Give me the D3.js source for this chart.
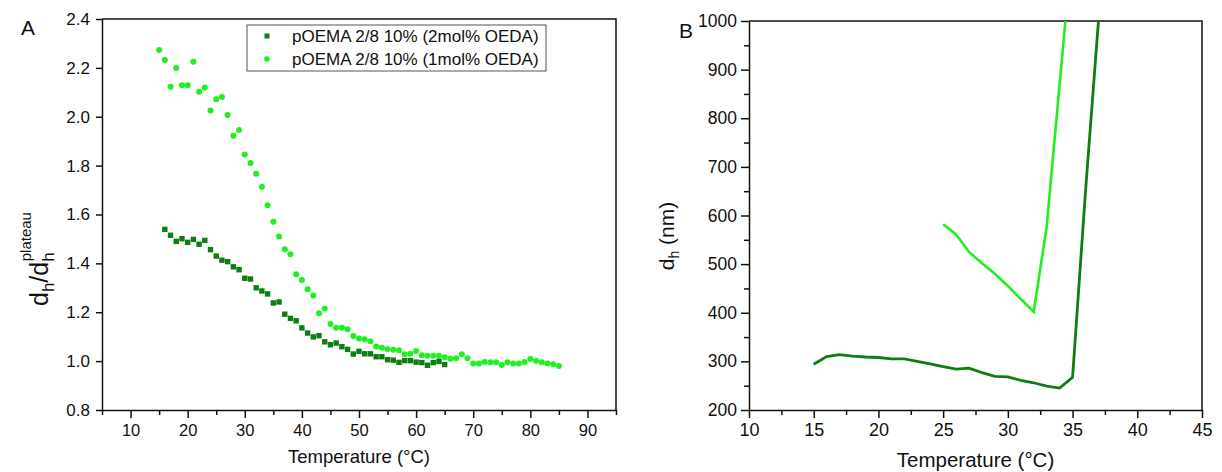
<!DOCTYPE html>
<html>
<head>
<meta charset="utf-8" />
<script src="https://d3js.org/d3.v7.min.js"></script>
<style>
	body { margin: 0; background: #fff; }
	text { font-family: "Liberation Sans", Arial, sans-serif; fill: #111; }
</style>
</head>
<body>
<div id="chart"></div>
<script>

// panel A: normalised hydrodynamic diameter
var tempA2 = d3.range(16, 66); // 16..65 °C
var valA2 = [1.539, 1.515, 1.49, 1.501, 1.486, 1.498, 1.478, 1.494, 1.456, 1.43,
	1.413, 1.407, 1.386, 1.374, 1.339, 1.336, 1.30, 1.287, 1.275, 1.238,
	1.242, 1.192, 1.175, 1.165, 1.136, 1.115, 1.099, 1.104, 1.079, 1.067,
	1.074, 1.059, 1.048, 1.029, 1.04, 1.03, 1.03, 1.018, 1.018, 1.006,
	1.004, 0.995, 1.002, 1.002, 0.996, 0.994, 0.983, 0.994, 0.999, 0.986];

var tempA1 = d3.range(15, 86); // 15..85 °C
var valA1 = [2.273, 2.232, 2.123, 2.199, 2.129, 2.129, 2.225, 2.102, 2.12, 2.026,
	2.072, 2.081, 2.007, 1.922, 1.946, 1.846, 1.811, 1.767, 1.714, 1.638,
	1.570, 1.510, 1.458, 1.437, 1.356, 1.332, 1.294, 1.269, 1.196, 1.215,
	1.152, 1.137, 1.137, 1.13, 1.103, 1.093, 1.09, 1.081, 1.06, 1.055,
	1.05, 1.047, 1.044, 1.028, 1.03, 1.041, 1.024, 1.022, 1.022, 1.022,
	1.016, 1.01, 1.012, 1.028, 1.012, 0.99, 0.99, 0.996, 0.995, 0.995,
	0.984, 0.995, 0.99, 0.99, 0.996, 1.009, 1.002, 0.995, 0.99, 0.987, 0.98];

// panel B: hydrodynamic diameter (nm)
var tempB2 = d3.range(15, 38); // 15..37 °C
var valB2 = [294, 310, 314, 311, 309, 308, 305, 305, 300, 295,
	289, 284, 286, 277, 269, 268, 261, 256, 249, 245, 267, 650, 1000];

var tempB1 = d3.range(25, 36); // 25..35 °C
var valB1 = [582, 561, 525, 502, 480, 455, 428, 402, 577, 870, 1160];

var seriesNames = ["pOEMA 2/8 10% (2mol% OEDA)", "pOEMA 2/8 10% (1mol% OEDA)"];
var darkGreen = "#0e7d12";
var lightGreen = "#1ff01f";

var svg = d3.select("#chart").append("svg")
	.attr("width", 1222)
	.attr("height", 472);

function styleAxis(size) {
	return function (g) {
		g.select(".domain").attr("stroke-width", 1.5).attr("stroke", "#111");
		g.selectAll("line").attr("stroke-width", 1.5).attr("stroke", "#111");
		g.selectAll("text").style("font-size", size + "px").attr("fill", "#222");
	};
}

function minorOnly(g) {
	g.select(".domain").remove();
	g.selectAll("line").attr("stroke-width", 1.5).attr("stroke", "#111");
}

// ---------- panel A ----------
var xA = d3.scaleLinear().domain([5, 95]).range([102, 616]);
var yA = d3.scaleLinear().domain([0.8, 2.4]).range([410, 19]);

var gA = svg.append("g");

// frame (top and right)
gA.append("path")
	.attr("d", "M" + xA(5) + "," + yA(2.4) + "H" + xA(95) + "V" + yA(0.8))
	.attr("fill", "none").attr("stroke", "#111").attr("stroke-width", 1.5);

gA.append("g")
	.attr("transform", "translate(0," + yA(0.8) + ")")
	.call(d3.axisBottom(xA).tickValues(d3.range(5, 96, 10)).tickSize(5).tickFormat(""))
	.call(minorOnly);

gA.append("g")
	.attr("transform", "translate(0," + yA(0.8) + ")")
	.call(d3.axisBottom(xA).tickValues(d3.range(10, 91, 10)).tickSize(8).tickSizeOuter(0).tickPadding(6))
	.call(styleAxis(16.5));

gA.append("g")
	.attr("transform", "translate(" + xA(5) + ",0)")
	.call(d3.axisLeft(yA).tickValues(d3.range(0.8, 2.41, 0.2)).tickSize(6).tickSizeOuter(0).tickPadding(6)
		.tickFormat(d3.format(".1f")))
	.call(styleAxis(17));

// data points
gA.append("g").selectAll("circle")
	.data(tempA1)
	.enter()
	.append("circle")
	.attr("cx", function (d) { return xA(d); })
	.attr("cy", function (d, i) { return yA(valA1[i]); })
	.attr("r", 3)
	.attr("fill", lightGreen);

gA.append("g").selectAll("rect")
	.data(tempA2)
	.enter()
	.append("rect")
	.attr("x", function (d) { return xA(d) - 2.7; })
	.attr("y", function (d, i) { return yA(valA2[i]) - 2.7; })
	.attr("width", 5.4)
	.attr("height", 5.4)
	.attr("fill", darkGreen);

// legend
var leg = gA.append("g");
leg.append("rect")
	.attr("x", 247).attr("y", 25).attr("width", 299).attr("height", 46)
	.attr("fill", "#fff").attr("stroke", "#555").attr("stroke-width", 1);
leg.append("rect").attr("x", 264.5).attr("y", 33.5).attr("width", 5).attr("height", 5).attr("fill", darkGreen);
leg.append("circle").attr("cx", 267).attr("cy", 59).attr("r", 2.8).attr("fill", lightGreen);
leg.selectAll("text.lg")
	.data(seriesNames)
	.enter()
	.append("text")
	.attr("class", "lg")
	.attr("x", 292)
	.attr("y", function (d, i) { return 42 + i * 22.5; })
	.style("font-size", "17px")
	.text(function (d) { return d; });

// axis titles
gA.append("text")
	.attr("x", (xA(5) + xA(95)) / 2).attr("y", 463)
	.attr("text-anchor", "middle")
	.style("font-size", "18.5px")
	.text("Temperature (°C)");

var ylabA = gA.append("text")
	.attr("transform", "translate(48,306) rotate(-90)")
	.attr("text-anchor", "start")
	.style("font-size", "25px");
ylabA.append("tspan").text("d");
ylabA.append("tspan").attr("dy", 6).style("font-size", "17px").text("h");
ylabA.append("tspan").attr("dy", -6).text("/d");
ylabA.append("tspan").attr("dy", 6).style("font-size", "17px").text("h");
ylabA.append("tspan").attr("dx", -9).attr("dy", -23).style("font-size", "15px").text("plateau");

gA.append("text").attr("x", 21).attr("y", 35).style("font-size", "21px").text("A");

// ---------- panel B ----------
var xB = d3.scaleLinear().domain([10, 45]).range([749, 1202]);
var yB = d3.scaleLinear().domain([200, 1000]).range([410, 21]);

var gB = svg.append("g");

gB.append("defs").append("clipPath").attr("id", "clipB")
	.append("rect")
	.attr("x", xB(10)).attr("y", yB(1000))
	.attr("width", xB(45) - xB(10)).attr("height", yB(200) - yB(1000));

gB.append("path")
	.attr("d", "M" + xB(10) + "," + yB(1000) + "H" + xB(45) + "V" + yB(200))
	.attr("fill", "none").attr("stroke", "#111").attr("stroke-width", 1.5);

gB.append("g")
	.attr("transform", "translate(0," + yB(200) + ")")
	.call(d3.axisBottom(xB).tickValues(d3.range(12.5, 45, 5)).tickSize(5).tickFormat(""))
	.call(minorOnly);

gB.append("g")
	.attr("transform", "translate(0," + yB(200) + ")")
	.call(d3.axisBottom(xB).tickValues(d3.range(10, 46, 5)).tickSize(8).tickSizeOuter(0).tickPadding(5))
	.call(styleAxis(18));

gB.append("g")
	.attr("transform", "translate(" + xB(10) + ",0)")
	.call(d3.axisLeft(yB).tickValues(d3.range(250, 1000, 100)).tickSize(5).tickFormat(""))
	.call(minorOnly);

gB.append("g")
	.attr("transform", "translate(" + xB(10) + ",0)")
	.call(d3.axisLeft(yB).tickValues(d3.range(200, 1001, 100)).tickSize(8).tickSizeOuter(0).tickPadding(4)
		.tickFormat(d3.format("d")))
	.call(styleAxis(17.5));

var line = d3.line()
	.x(function (d) { return xB(d[0]); })
	.y(function (d) { return yB(d[1]); });

gB.append("path")
	.datum(d3.zip(tempB1, valB1))
	.attr("clip-path", "url(#clipB)")
	.attr("d", line)
	.attr("fill", "none")
	.attr("stroke", lightGreen)
	.attr("stroke-width", 2.6);

gB.append("path")
	.datum(d3.zip(tempB2, valB2))
	.attr("clip-path", "url(#clipB)")
	.attr("d", line)
	.attr("fill", "none")
	.attr("stroke", darkGreen)
	.attr("stroke-width", 2.8);

gB.append("text")
	.attr("x", (xB(10) + xB(45)) / 2).attr("y", 467)
	.attr("text-anchor", "middle")
	.style("font-size", "20.5px")
	.text("Temperature (°C)");

var ylabB = gB.append("text")
	.attr("transform", "translate(674,236) rotate(-90)")
	.attr("text-anchor", "middle")
	.style("font-size", "21px");
ylabB.append("tspan").text("d");
ylabB.append("tspan").attr("dy", 5).style("font-size", "14px").text("h");
ylabB.append("tspan").attr("dy", -5).text(" (nm)");

gB.append("text").attr("x", 679).attr("y", 38).style("font-size", "21px").text("B");

</script>
</body>
</html>
